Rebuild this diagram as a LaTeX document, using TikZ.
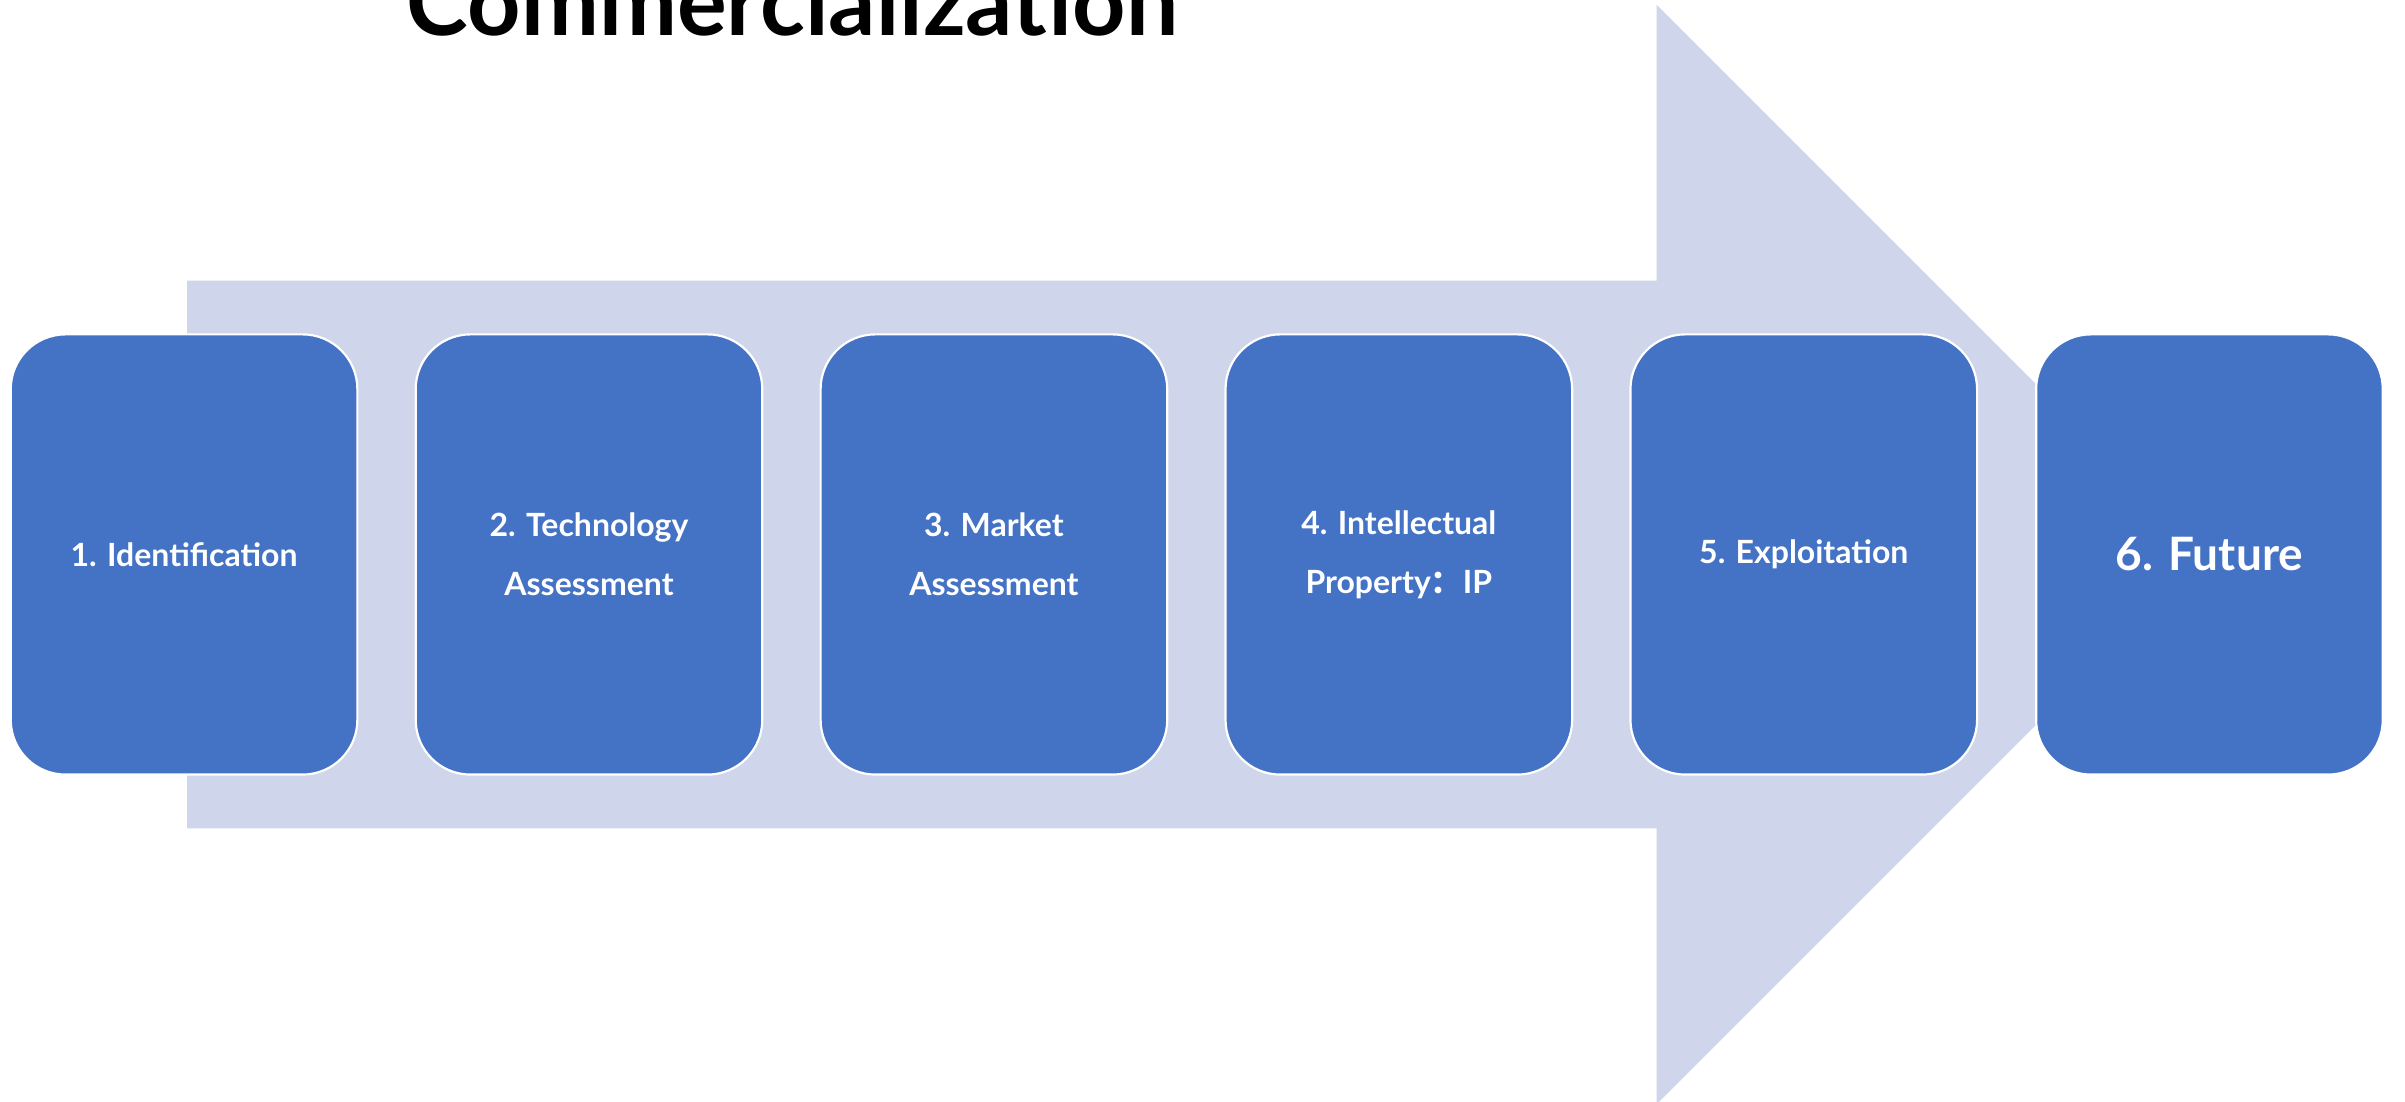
\documentclass[tikz,border=0pt]{standalone}
\usepackage{fontspec}
\setmainfont{Lato}
\newfontfamily\cjkfont{Noto Sans CJK SC}
\definecolor{arrowfill}{HTML}{CFD5EA}
\definecolor{boxfill}{HTML}{4472C4}
\begin{document}
\begin{tikzpicture}[x=0.7pt,y=-0.7pt,
  stagebox/.style={draw=white, line width=1pt, fill=boxfill, rounded corners=25pt,
    minimum width=226*0.7pt, minimum height=287*0.7pt, text=white, align=center,
    font=\bfseries\fontsize{14.6}{27}\selectfont, inner sep=0pt},
  bigbox/.style={stagebox, font=\bfseries\fontsize{21}{27}\selectfont}]
\useasboundingbox (0,0) rectangle (1568,718);
\fill[white] (0,0) rectangle (1568,718);
% big arrow
\fill[arrowfill] (122,183) -- (1080,183) -- (1080,3) -- (1438.5,361.5) -- (1080,720) -- (1080,540) -- (122,540) -- cycle;
% title
\node[anchor=base west, inner sep=0pt, font=\bfseries\fontsize{42.5}{42.5}\selectfont] (title) at (265,23) {Commercialization};
% boxes
\node[stagebox] (b1) at (120,361.5) {1. Identification};
\node[stagebox] (b2) at (384,361.5) {2. Technology\\Assessment};
\node[stagebox] (b3) at (648,361.5) {3. Market\\Assessment};
\node[stagebox] (b4) at (912,361.5) {4. Intellectual\\Property{\cjkfont\bfseries ：}IP};
\node[stagebox] (b5) at (1176,361.5) {5. Exploitation};
\node[bigbox] (b6) at (1440.5,361.5) {6. Future};
\end{tikzpicture}
\end{document}
